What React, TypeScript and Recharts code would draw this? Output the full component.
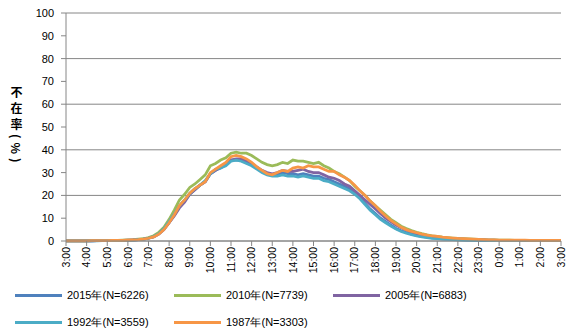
import React from "react";
import { CartesianGrid, Line, LineChart, XAxis, YAxis } from "recharts";

document.body.style.margin = "0";

// hourly labels, 3:00 -> 3:00 next day; data every 15 min
const hours = [
  "3", "4", "5", "6", "7", "8", "9", "10", "11", "12", "13", "14", "15",
  "16", "17", "18", "19", "20", "21", "22", "23", "0", "1", "2", "3",
];
const quarters = ["00", "15", "30", "45"];

const s2015 = [
  0.1, 0.1, 0.1, 0.1, 0.1, 0.1, 0.2, 0.2, 0.2, 0.2, 0.2, 0.3,
  0.3, 0.4, 0.6, 0.8, 1.2, 1.9, 3.2, 5.2, 8.0, 11.5, 15.0, 17.5,
  20.5, 22.5, 24.5, 26.0, 29.5, 31.0, 32.0, 33.5, 35.5, 35.5, 35.5, 34.5,
  33.5, 32.0, 30.5, 29.5, 29.0, 29.0, 30.0, 29.5, 29.5, 29.0, 29.5, 29.0,
  28.5, 28.5, 27.5, 27.0, 26.0, 25.0, 24.0, 23.0, 21.0, 19.0, 16.5, 14.0,
  12.0, 10.0, 8.5, 7.0, 5.5, 4.5, 3.7, 3.0, 2.5, 2.0, 1.7, 1.4,
  1.1, 0.9, 0.8, 0.7, 0.6, 0.5, 0.4, 0.4, 0.3, 0.3, 0.3, 0.2,
  0.2, 0.2, 0.2, 0.2, 0.2, 0.2, 0.2, 0.2, 0.2, 0.2, 0.2, 0.2, 0.2,
];
const s2010 = [
  0.1, 0.1, 0.1, 0.1, 0.1, 0.2, 0.2, 0.2, 0.3, 0.3, 0.3, 0.4,
  0.5, 0.6, 0.8, 1.0, 1.5, 2.3, 3.8, 6.0, 9.5, 13.5, 18.0, 20.5,
  23.5, 25.0, 27.0, 29.0, 33.0, 34.0, 35.5, 36.5, 38.5, 39.0, 38.5, 38.5,
  37.5, 36.0, 34.5, 33.5, 33.0, 33.5, 34.5, 34.0, 35.5, 35.0, 35.0, 34.5,
  34.0, 34.5, 33.0, 32.0, 30.5, 29.5, 28.0, 26.5, 24.0, 22.0, 20.0, 17.5,
  15.5, 13.5, 11.5, 9.5, 8.0, 6.5, 5.5, 4.6, 3.8, 3.2, 2.7, 2.3,
  2.0, 1.7, 1.5, 1.3, 1.1, 1.0, 0.9, 0.8, 0.7, 0.6, 0.5, 0.5,
  0.4, 0.4, 0.4, 0.3, 0.3, 0.3, 0.3, 0.3, 0.3, 0.3, 0.3, 0.3, 0.3,
];
const s2005 = [
  0.1, 0.1, 0.1, 0.1, 0.1, 0.1, 0.2, 0.2, 0.2, 0.2, 0.3, 0.3,
  0.4, 0.5, 0.6, 0.8, 1.2, 1.8, 3.0, 5.0, 8.0, 11.0, 14.5, 17.0,
  20.5, 22.5, 24.5, 26.0, 29.5, 31.0, 32.5, 34.0, 35.5, 36.0, 36.0, 35.0,
  34.0, 32.5, 31.0, 30.0, 29.5, 30.0, 31.0, 30.5, 30.5, 31.0, 31.5, 30.5,
  30.0, 30.0, 29.0, 28.0, 27.5, 26.5, 25.0, 24.0, 22.0, 20.0, 18.0, 16.0,
  14.0, 12.0, 10.0, 8.5, 7.0, 5.8, 4.8, 4.0, 3.3, 2.7, 2.3, 1.9,
  1.6, 1.4, 1.2, 1.0, 0.9, 0.8, 0.7, 0.6, 0.5, 0.5, 0.4, 0.4,
  0.3, 0.3, 0.3, 0.3, 0.3, 0.3, 0.3, 0.2, 0.2, 0.2, 0.2, 0.2, 0.2,
];
const s1992 = [
  0.1, 0.1, 0.1, 0.1, 0.1, 0.1, 0.1, 0.2, 0.2, 0.2, 0.2, 0.3,
  0.3, 0.4, 0.6, 0.8, 1.2, 2.0, 3.2, 5.5, 8.5, 12.0, 15.5, 18.0,
  21.0, 23.0, 24.5, 26.5, 29.5, 31.5, 32.0, 33.0, 35.0, 35.5, 35.0, 34.0,
  33.0, 31.5, 30.0, 29.0, 28.5, 28.5, 29.0, 28.5, 28.5, 28.0, 28.5, 28.0,
  27.5, 27.5, 26.5, 26.0, 25.0, 24.0, 23.0, 22.0, 20.5, 18.5, 16.0, 13.5,
  11.5, 9.5, 8.0, 6.5, 5.2, 4.2, 3.4, 2.8, 2.2, 1.8, 1.5, 1.2,
  1.0, 0.8, 0.7, 0.6, 0.5, 0.4, 0.4, 0.3, 0.3, 0.3, 0.2, 0.2,
  0.2, 0.2, 0.2, 0.2, 0.2, 0.2, 0.2, 0.2, 0.2, 0.2, 0.2, 0.2, 0.2,
];
const s1987 = [
  0.1, 0.1, 0.1, 0.1, 0.1, 0.2, 0.2, 0.2, 0.2, 0.3, 0.3, 0.3,
  0.4, 0.5, 0.6, 0.8, 1.2, 1.8, 3.0, 5.0, 8.0, 11.5, 15.5, 18.0,
  21.0, 23.0, 24.5, 26.0, 30.0, 31.5, 33.0, 34.5, 37.0, 37.5, 37.0, 36.0,
  34.5, 32.5, 31.0, 29.5, 29.0, 30.0, 31.0, 30.5, 32.0, 32.5, 32.0, 33.0,
  32.5, 32.5, 31.5, 30.5, 30.5, 29.0, 28.0, 26.5, 24.5, 22.0, 20.0, 17.5,
  15.5, 13.0, 11.0, 9.0, 7.5, 6.0, 5.0, 4.2, 3.6, 3.0, 2.6, 2.2,
  2.0, 1.7, 1.5, 1.3, 1.1, 1.0, 0.9, 0.8, 0.7, 0.6, 0.5, 0.5,
  0.4, 0.4, 0.4, 0.4, 0.4, 0.4, 0.3, 0.3, 0.3, 0.3, 0.3, 0.3, 0.3,
];

const series = [
  { key: "y2015", name: "2015年(N=6226)", color: "#4F81BD", values: s2015 },
  { key: "y2010", name: "2010年(N=7739)", color: "#9BBB59", values: s2010 },
  { key: "y2005", name: "2005年(N=6883)", color: "#8064A2", values: s2005 },
  { key: "y1992", name: "1992年(N=3559)", color: "#4BACC6", values: s1992 },
  { key: "y1987", name: "1987年(N=3303)", color: "#F79646", values: s1987 },
];

const times: string[] = [];
hours.forEach((h, i) => {
  if (i === hours.length - 1) {
    times.push(`${h}:00`);
  } else {
    quarters.forEach((q) => times.push(`${h}:${q}`));
  }
});

const data = times.map((t, i) => {
  const row: Record<string, string | number> = { t };
  series.forEach((s) => (row[s.key] = s.values[i]));
  return row;
});

const yTicks = [0, 10, 20, 30, 40, 50, 60, 70, 80, 90, 100];

const FONT = "'Liberation Sans', Arial, sans-serif";
const GRID = "#868686";

function TimeTick({ x, y, payload }: any) {
  return (
    <g transform={`translate(${x},${y})`}>
      <text
        transform="rotate(-90)"
        x={0}
        y={0}
        dy="0.35em"
        textAnchor="end"
        fontSize={10.5}
        fontFamily={FONT}
        fill="#000"
      >
        {payload.value}
      </text>
    </g>
  );
}

export default function App() {
  const rows = [series.slice(0, 3), series.slice(3)];
  return (
    <div style={{ position: "relative", width: 566, height: 335, background: "#fff" }}>
      <LineChart
        width={566}
        height={335}
        data={data}
        margin={{ top: 13, right: 5, bottom: 0, left: 0 }}
      >
        <CartesianGrid horizontal vertical={false} stroke={GRID} strokeWidth={1} />
        <XAxis
          dataKey="t"
          interval={3}
          height={94}
          tick={<TimeTick />}
          tickSize={5}
          tickMargin={1}
          stroke={GRID}
          tickLine={{ stroke: GRID }}
        />
        <YAxis
          domain={[0, 100]}
          ticks={yTicks}
          width={66}
          tickSize={5}
          tickMargin={7}
          stroke={GRID}
          tick={{ fontSize: 11, fill: "#000", fontFamily: FONT }}
        />
        {series.map((s) => (
          <Line
            key={s.key}
            dataKey={s.key}
            name={s.name}
            stroke={s.color}
            strokeWidth={2.75}
            dot={false}
            type="linear"
            isAnimationActive={false}
          />
        ))}
      </LineChart>

      <div
        style={{
          position: "absolute",
          left: 10,
          top: 86,
          writingMode: "vertical-rl",
          fontFamily: "'Noto Sans CJK JP', sans-serif",
          fontWeight: "bold",
          fontSize: 12,
          letterSpacing: 4,
          lineHeight: 1,
          color: "#000",
        }}
      >
        不在率(%)
      </div>

      {rows.map((row, r) => (
        <div
          key={r}
          style={{ position: "absolute", left: 0, top: 287 + r * 27, height: 16 }}
        >
          {row.map((s, i) => (
            <div
              key={s.key}
              style={{
                position: "absolute",
                left: 15 + i * 159,
                top: 0,
                display: "flex",
                alignItems: "center",
                whiteSpace: "nowrap",
                height: 16,
              }}
            >
              <span
                style={{ display: "inline-block", width: 47, height: 3, background: s.color }}
              />
              <span
                style={{
                  marginLeft: 5,
                  fontFamily: FONT,
                  fontSize: 11,
                  color: "#000",
                }}
              >
                {s.name}
              </span>
            </div>
          ))}
        </div>
      ))}
    </div>
  );
}
